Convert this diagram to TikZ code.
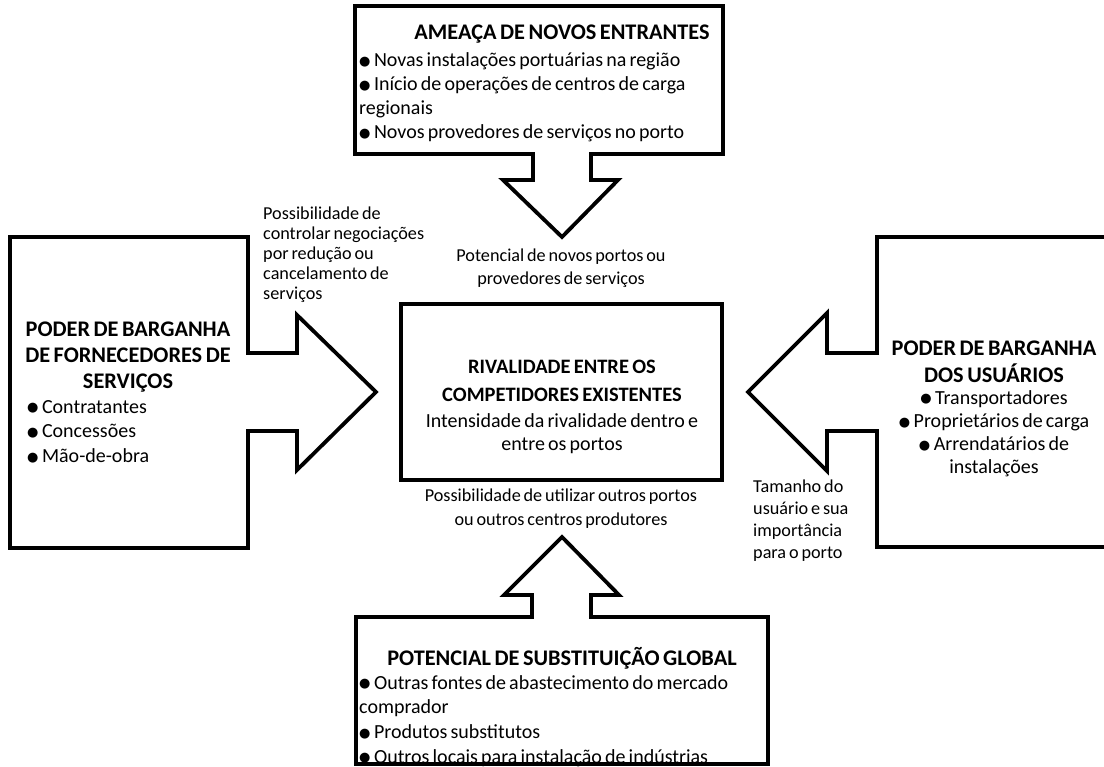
\documentclass[tikz,border=0pt]{standalone}
\usepackage{fontspec}
\setmainfont{Carlito}[WordSpace=0.7]
\newfontfamily\symfont{DejaVu Sans}
\newcommand\mainsz{\fontsize{20}{24}\selectfont}
\newcommand\headsz{\fontsize{22.3}{25}\selectfont\bfseries}
\newcommand\notesz{\fontsize{18.2}{21}\selectfont}
\newcommand\bulletmark{\raisebox{1.2pt}{\symfont\fontsize{13}{13}\selectfont ●}\hspace{3.5pt}}
\tikzset{
  outline/.style={draw, line width=3.8pt, line join=miter, fill=white},
  txt/.style={inner sep=0pt, font=\mainsz},
  head/.style={inner sep=0pt, font=\headsz},
  note/.style={inner sep=0pt, font=\notesz},
  bs/.style={execute at begin node={\setlength\baselineskip{#1pt}}},
}
\begin{document}
\begin{tikzpicture}[x=1pt, y=-1pt]
\useasboundingbox (0,0) rectangle (1104,767);
\clip (0,0) rectangle (1104,767);

% top block with downward arrow
\draw[outline] (355,6) -- (723,6) -- (723,154) -- (591,154) -- (591,180) -- (618,180)
  -- (562,237) -- (503,180) -- (533,180) -- (533,154) -- (355,154) -- cycle;
% left block with rightward arrow
\draw[outline] (10,237) -- (248,237) -- (248,353) -- (297,353) -- (297,315) -- (376,392)
  -- (297,470) -- (297,431) -- (248,431) -- (248,548) -- (10,548) -- cycle;
% right block with leftward arrow (runs off the right edge)
\draw[outline] (1115,237) -- (877,237) -- (877,353) -- (827,353) -- (827,313) -- (748,392)
  -- (827,471) -- (827,431) -- (877,431) -- (877,547) -- (1115,547);
% bottom block with upward arrow
\draw[outline] (356,764) -- (356,617) -- (532,617) -- (532,595) -- (504,595) -- (562,537)
  -- (619,595) -- (591,595) -- (591,617) -- (768,617) -- (768,764) -- cycle;
% central block
\draw[outline] (401,304) rectangle (722,480);

% top block text
\node[head, anchor=base] (toptitle) at (562,40) {AMEAÇA DE NOVOS ENTRANTES};
\node[txt, bs=24, anchor=north west, align=left] (toplist) at (359,50) {\strut\bulletmark Novas instalações portuárias na região\\
\bulletmark Início de operações de centros de carga\\ regionais\\ \bulletmark Novos provedores de serviços no porto};

% left block text
\node[head, bs=26, anchor=north, align=center] (lefttitle) at (128,319) {\strut PODER DE BARGANHA\\ DE FORNECEDORES DE\\ SERVIÇOS};
\node[txt, bs=25, anchor=north west, align=left] (leftlist) at (27,396) {\strut\bulletmark Contratantes\\ \bulletmark Concessões\\ \bulletmark Mão-de-obra};

% right block text
\node[head, bs=24, anchor=north, align=center] (righttitle) at (994,338) {\strut PODER DE BARGANHA\\ DOS USUÁRIOS};
\node[txt, bs=23.3, anchor=north, align=center] (rightlist) at (994,387) {\strut\bulletmark Transportadores\\ \bulletmark Proprietários de carga\\
\bulletmark Arrendatários de\\ instalações};

% central block text
\node[head, bs=28, anchor=north, align=center, font=\fontsize{20.5}{28}\selectfont\bfseries] (centertitle) at (562,354) {\strut RIVALIDADE ENTRE OS\\ COMPETIDORES EXISTENTES};
\node[txt, bs=23, anchor=north, align=center] (centertext) at (562,410) {\strut Intensidade da rivalidade dentro e\\ entre os portos};

% bottom block text
\node[head, anchor=base] (bottitle) at (562,665) {POTENCIAL DE SUBSTITUIÇÃO GLOBAL};
\node[txt, bs=24.7, anchor=north west, align=left] (botlist) at (359,672) {\strut\bulletmark Outras fontes de abastecimento do mercado\\
comprador\\ \bulletmark Produtos substitutos\\ \bulletmark Outros locais para instalação de indústrias};

% annotations beside the arrows
\node[note, bs=19.8, anchor=north west, align=left] (noteleft) at (263,205) {\strut Possibilidade de\\ controlar negociações\\ por redução ou\\ cancelamento de\\ serviços};
\node[note, bs=23, anchor=north, align=center] (notetop) at (561,247) {\strut Potencial de novos portos ou\\ provedores de serviços};
\node[note, bs=24, anchor=north, align=center] (notebottom) at (561,487) {\strut Possibilidade de utilizar outros portos\\ ou outros centros produtores};
\node[note, bs=22, anchor=north west, align=left] (noteright) at (753,478) {\strut Tamanho do\\ usuário e sua\\ importância\\ para o porto};
\end{tikzpicture}
\end{document}
